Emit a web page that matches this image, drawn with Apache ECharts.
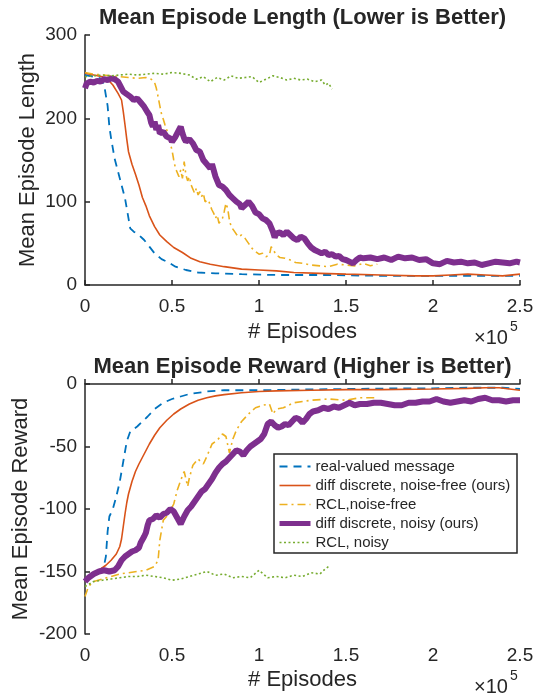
<!DOCTYPE html>
<html>
<head>
<meta charset="utf-8">
<script src="https://cdn.jsdelivr.net/npm/echarts@6/dist/echarts.min.js"></script>
<style>html,body{margin:0;padding:0;background:#fff}#c{width:543px;height:696px}</style>
</head>
<body>
<div id="c"></div>
<script>
// x values are in units of 1e5 episodes
const seriesNames = ['real-valued message', 'diff discrete, noise-free (ours)', 'RCL,noise-free', 'diff discrete, noisy (ours)', 'RCL, noisy'];
const xTicks = ['0', '0.5', '1', '1.5', '2', '2.5'];

// Mean Episode Length
const lenRealValued = [[0,252],[0.05,250],[0.09,248],[0.11,240],[0.13,215],[0.14,190],[0.15,176],[0.17,152],[0.19,136],[0.21,120],[0.23,104],[0.25,80],[0.26,68],[0.28,64],[0.31,60],[0.34,54],[0.37,46],[0.4,38],[0.44,31],[0.48,27],[0.52,22],[0.58,18],[0.65,15],[0.75,14],[0.9,13],[1.1,12],[1.4,12],[1.7,11],[2.0,11],[2.3,11],[2.5,11]];
const lenDiffFree = [[0,254],[0.05,252],[0.1,250],[0.13,247],[0.16,240],[0.19,230],[0.21,222],[0.22,208],[0.23,192],[0.24,175],[0.25,160],[0.27,145],[0.29,133],[0.31,120],[0.33,105],[0.35,95],[0.37,83],[0.4,70],[0.43,60],[0.47,52],[0.51,45],[0.56,39],[0.61,32],[0.66,28],[0.72,25],[0.8,22],[0.9,19],[1.0,18],[1.1,17],[1.2,15],[1.35,14],[1.5,13],[1.7,12],[1.9,11],[2.0,11],[2.1,12],[2.2,13],[2.3,12],[2.4,11],[2.5,13]];
const lenRclFree = [[0,255],[0.05,253],[0.1,252],[0.15,251],[0.2,250],[0.25,249],[0.3,248],[0.35,249],[0.38,247],[0.4,243],[0.41,236],[0.42,226],[0.43,215],[0.44,205],[0.45,199],[0.46,192],[0.47,186],[0.48,180],[0.49,170],[0.5,162],[0.51,150],[0.52,140],[0.53,135],[0.54,130],[0.55,138],[0.56,128],[0.57,148],[0.58,132],[0.59,125],[0.6,130],[0.61,120],[0.62,122],[0.63,110],[0.64,116],[0.65,108],[0.66,112],[0.67,106],[0.68,110],[0.69,100],[0.7,98],[0.71,102],[0.72,95],[0.73,90],[0.74,86],[0.75,80],[0.76,84],[0.77,74],[0.78,72],[0.79,80],[0.8,88],[0.81,98],[0.82,92],[0.83,78],[0.84,70],[0.85,72],[0.86,64],[0.87,66],[0.88,58],[0.9,60],[0.92,56],[0.94,50],[0.96,44],[0.98,40],[1.0,37],[1.02,38],[1.04,34],[1.06,36],[1.07,46],[1.08,44],[1.1,36],[1.12,33],[1.15,32],[1.18,30],[1.21,27],[1.25,26],[1.3,24],[1.35,23],[1.4,22],[1.45,25],[1.5,24],[1.55,23],[1.6,26],[1.64,23],[1.68,25]];
const lenDiffNoisy = [[0,236],[0.01,242],[0.03,244],[0.05,243],[0.07,245],[0.09,244],[0.11,247],[0.13,246],[0.15,248],[0.17,247],[0.19,244],[0.2,240],[0.22,232],[0.24,229],[0.26,226],[0.28,222],[0.3,224],[0.32,219],[0.34,214],[0.36,207],[0.37,204],[0.38,195],[0.39,190],[0.4,196],[0.41,186],[0.42,192],[0.43,182],[0.45,184],[0.47,178],[0.49,176],[0.5,172],[0.52,178],[0.54,186],[0.55,190],[0.56,182],[0.57,176],[0.58,172],[0.6,175],[0.62,170],[0.64,162],[0.66,160],[0.68,150],[0.7,145],[0.72,140],[0.73,145],[0.75,130],[0.77,120],[0.79,118],[0.81,114],[0.83,108],[0.85,104],[0.87,100],[0.89,97],[0.9,92],[0.92,96],[0.94,100],[0.96,95],[0.98,87],[1.0,85],[1.02,80],[1.04,78],[1.06,74],[1.08,64],[1.09,57],[1.1,62],[1.12,63],[1.14,60],[1.16,64],[1.18,60],[1.2,56],[1.22,54],[1.24,58],[1.26,56],[1.28,50],[1.3,45],[1.32,42],[1.34,40],[1.36,38],[1.38,40],[1.4,36],[1.42,37],[1.44,34],[1.46,35],[1.48,31],[1.5,30],[1.52,28],[1.54,26],[1.56,30],[1.58,33],[1.6,32],[1.64,33],[1.68,31],[1.72,33],[1.76,30],[1.8,34],[1.84,32],[1.88,33],[1.92,30],[1.96,31],[2.0,26],[2.04,25],[2.08,29],[2.12,27],[2.16,28],[2.2,26],[2.24,27],[2.28,24],[2.32,26],[2.36,28],[2.4,27],[2.44,26],[2.48,28],[2.5,27]];
const lenRclNoisy = [[0,250],[0.05,251],[0.1,252],[0.15,251],[0.2,252],[0.25,253],[0.3,252],[0.35,253],[0.4,254],[0.45,253],[0.5,255],[0.55,254],[0.6,252],[0.64,247],[0.68,250],[0.72,244],[0.76,249],[0.8,246],[0.84,251],[0.88,248],[0.92,249],[0.96,250],[1.0,243],[1.04,247],[1.08,251],[1.12,249],[1.16,246],[1.2,248],[1.24,246],[1.28,247],[1.32,244],[1.36,246],[1.38,240],[1.4,242],[1.42,235]];

// Mean Episode Reward
const rewRealValued = [[0,-158],[0.03,-155],[0.06,-152],[0.09,-149],[0.11,-145],[0.12,-138],[0.13,-118],[0.14,-106],[0.16,-100],[0.18,-90],[0.2,-78],[0.22,-62],[0.24,-46],[0.26,-38],[0.28,-36],[0.3,-34],[0.33,-30],[0.36,-26],[0.4,-20],[0.45,-15],[0.5,-12],[0.55,-10],[0.6,-8],[0.7,-6],[0.8,-5],[1.0,-5],[1.2,-4.5],[1.5,-4],[1.8,-3.5],[2.0,-3.5],[2.2,-3],[2.4,-3],[2.5,-4]];
const rewDiffFree = [[0,-158],[0.03,-155],[0.06,-151],[0.09,-148],[0.12,-145],[0.15,-141],[0.18,-136],[0.2,-130],[0.21,-124],[0.22,-114],[0.23,-104],[0.24,-95],[0.25,-88],[0.27,-78],[0.29,-70],[0.31,-64],[0.34,-56],[0.37,-48],[0.4,-41],[0.43,-35],[0.47,-29],[0.51,-24],[0.55,-20],[0.6,-16],[0.65,-13],[0.7,-11],[0.75,-9.5],[0.8,-8.5],[0.9,-7],[1.0,-6],[1.1,-5.5],[1.3,-5],[1.5,-4.5],[1.7,-4.5],[2.0,-4],[2.2,-3.5],[2.3,-3],[2.38,-3],[2.44,-4],[2.5,-5]];
const rewRclFree = [[0,-170],[0.02,-162],[0.05,-158],[0.1,-156],[0.15,-154],[0.2,-152],[0.25,-151],[0.3,-150],[0.35,-149],[0.4,-146],[0.42,-141],[0.43,-125],[0.45,-109],[0.48,-104],[0.51,-96],[0.53,-85],[0.55,-77],[0.57,-70],[0.59,-82],[0.6,-75],[0.62,-65],[0.65,-60],[0.68,-64],[0.7,-58],[0.73,-48],[0.76,-45],[0.79,-40],[0.81,-42],[0.83,-55],[0.85,-44],[0.87,-37],[0.9,-30],[0.94,-24],[0.98,-19],[1.02,-17],[1.06,-16],[1.08,-24],[1.1,-20],[1.14,-19],[1.2,-15],[1.3,-13],[1.4,-12],[1.5,-13],[1.58,-11],[1.67,-11]];
const rewDiffNoisy = [[0,-158],[0.02,-155],[0.05,-152],[0.08,-150],[0.11,-149],[0.14,-150],[0.17,-149],[0.19,-146],[0.21,-141],[0.23,-138],[0.25,-136],[0.27,-134],[0.29,-133],[0.31,-131],[0.32,-127],[0.34,-122],[0.35,-119],[0.36,-113],[0.37,-109],[0.39,-108],[0.41,-105],[0.43,-107],[0.45,-104],[0.47,-103],[0.49,-100],[0.51,-102],[0.53,-107],[0.55,-112],[0.57,-106],[0.59,-101],[0.61,-98],[0.63,-94],[0.65,-90],[0.67,-86],[0.69,-84],[0.71,-80],[0.73,-76],[0.75,-71],[0.77,-67],[0.79,-64],[0.81,-62],[0.83,-59],[0.85,-56],[0.87,-53],[0.89,-54],[0.91,-57],[0.93,-53],[0.95,-50],[0.97,-48],[0.99,-46],[1.01,-44],[1.03,-40],[1.05,-32],[1.07,-30],[1.09,-33],[1.11,-35],[1.13,-34],[1.15,-32],[1.17,-33],[1.19,-30],[1.21,-27],[1.23,-28],[1.25,-31],[1.27,-28],[1.29,-24],[1.31,-22],[1.34,-21],[1.37,-19],[1.4,-20],[1.43,-18],[1.46,-19],[1.49,-17],[1.52,-15],[1.55,-17],[1.58,-16],[1.62,-16],[1.66,-15],[1.7,-15],[1.74,-16],[1.78,-17],[1.82,-17],[1.86,-15],[1.9,-15],[1.94,-14],[1.98,-14],[2.02,-12],[2.06,-14],[2.1,-15],[2.14,-14],[2.18,-13],[2.22,-14],[2.26,-12],[2.3,-11],[2.34,-13],[2.38,-13],[2.42,-14],[2.46,-13],[2.5,-13]];
const rewRclNoisy = [[0,-162],[0.05,-158],[0.1,-157],[0.15,-156],[0.2,-155],[0.25,-154],[0.3,-154],[0.35,-153],[0.4,-154],[0.45,-155],[0.5,-157],[0.55,-156],[0.6,-154],[0.65,-152],[0.7,-150],[0.75,-153],[0.8,-152],[0.85,-155],[0.9,-154],[0.95,-155],[1.0,-149],[1.05,-155],[1.1,-154],[1.15,-155],[1.2,-153],[1.25,-154],[1.3,-151],[1.35,-152],[1.38,-148],[1.41,-145]];

const colors = ['#0072BD', '#D95319', '#EDB120', '#7E2F8E', '#77AC30'];
const styles = [
  {width: 1.8, type: [8, 6]},
  {width: 1.6, type: 'solid'},
  {width: 1.6, type: [8, 4, 2, 4]},
  {width: 6, type: 'solid'},
  {width: 1.6, type: [2, 2.5]}
];
const FONT = 'Liberation Sans, Arial, Helvetica, sans-serif';
const TXT = '#262626';

const lenData = [lenRealValued, lenDiffFree, lenRclFree, lenDiffNoisy, lenRclNoisy];
const rewData = [rewRealValued, rewDiffFree, rewRclFree, rewDiffNoisy, rewRclNoisy];

function mkX(gi) {
  return {
    type: 'value', gridIndex: gi, min: 0, max: 2.5, interval: 0.5,
    axisLine: {show: true, lineStyle: {color: TXT, width: 1.5}},
    axisTick: {show: true, inside: true, length: 5, lineStyle: {color: TXT, width: 1.5}},
    axisLabel: {color: TXT, fontSize: 19, fontFamily: FONT, margin: 12,
      formatter: v => xTicks[Math.round(v / 0.5)]},
    splitLine: {show: false}
  };
}
function mkY(gi, min, max, interval) {
  return {
    type: 'value', gridIndex: gi, min: min, max: max, interval: interval,
    axisLine: {show: true, onZero: false, lineStyle: {color: TXT, width: 1.5}},
    axisTick: {show: true, inside: true, length: 5, lineStyle: {color: TXT, width: 1.5}},
    axisLabel: {color: TXT, fontSize: 19, fontFamily: FONT, margin: 8},
    splitLine: {show: false}
  };
}

const series = [];
[lenData, rewData].forEach((set, gi) => {
  set.forEach((d, i) => {
    series.push({
      name: seriesNames[i], type: 'line', xAxisIndex: gi, yAxisIndex: gi,
      data: d, showSymbol: false, symbol: 'none', smooth: false,
      color: colors[i],
      lineStyle: {color: colors[i], width: styles[i].width, type: styles[i].type},
      animation: false, z: 2
    });
  });
});

const legendData = seriesNames.map((n, i) => ({
  name: n,
  lineStyle: {color: colors[i], width: i === 3 ? 5 : styles[i].width, type: styles[i].type}
}));

const chart = echarts.init(document.getElementById('c'), null, {renderer: 'canvas'});
chart.setOption({
  animation: false,
  backgroundColor: '#fff',
  grid: [
    {left: 85, top: 35, width: 435, height: 250, containLabel: false},
    {left: 85, top: 384, width: 435, height: 250, containLabel: false}
  ],
  xAxis: [mkX(0), mkX(1)],
  yAxis: [mkY(0, 0, 300, 100), mkY(1, -200, 0, 50)],
  legend: {
    data: legendData, orient: 'vertical', left: 277, top: 459, padding: 0,
    itemWidth: 31, itemHeight: 14, itemGap: 4.0, z: 6,
    itemStyle: {opacity: 0},
    textStyle: {color: TXT, fontSize: 15, fontFamily: FONT, lineHeight: 14}
  },
  graphic: [
    {type: 'rect', shape: {x: 274, y: 454, width: 243, height: 99}, z: 3,
     style: {fill: '#fff', stroke: TXT, lineWidth: 1.5}},
    {type: 'text', x: 302.5, y: 18, z: 10, style: {text: 'Mean Episode Length (Lower is Better)', fill: TXT, font: 'bold 22px ' + FONT, align: 'center', verticalAlign: 'middle'}},
    {type: 'text', x: 302.5, y: 367, z: 10, style: {text: 'Mean Episode Reward (Higher is Better)', fill: TXT, font: 'bold 22px ' + FONT, align: 'center', verticalAlign: 'middle'}},
    {type: 'text', x: 28, y: 160, rotation: Math.PI / 2, z: 10, style: {text: 'Mean Episode Length', fill: TXT, font: '22px ' + FONT, align: 'center', verticalAlign: 'middle'}},
    {type: 'text', x: 21, y: 509, rotation: Math.PI / 2, z: 10, style: {text: 'Mean Episode Reward', fill: TXT, font: '22px ' + FONT, align: 'center', verticalAlign: 'middle'}},
    {type: 'text', x: 302.5, y: 332, z: 10, style: {text: '# Episodes', fill: TXT, font: '22px ' + FONT, align: 'center', verticalAlign: 'middle'}},
    {type: 'text', x: 302.5, y: 680, z: 10, style: {text: '# Episodes', fill: TXT, font: '22px ' + FONT, align: 'center', verticalAlign: 'middle'}},
    {type: 'text', x: 474, y: 338, z: 10, style: {text: '×10', fill: TXT, font: '20px ' + FONT, align: 'left', verticalAlign: 'middle'}},
    {type: 'text', x: 510, y: 327, z: 10, style: {text: '5', fill: TXT, font: '14px ' + FONT, align: 'left', verticalAlign: 'middle'}},
    {type: 'text', x: 474, y: 687, z: 10, style: {text: '×10', fill: TXT, font: '20px ' + FONT, align: 'left', verticalAlign: 'middle'}},
    {type: 'text', x: 510, y: 676, z: 10, style: {text: '5', fill: TXT, font: '14px ' + FONT, align: 'left', verticalAlign: 'middle'}}
  ],
  series: series
});
</script>
</body>
</html>
